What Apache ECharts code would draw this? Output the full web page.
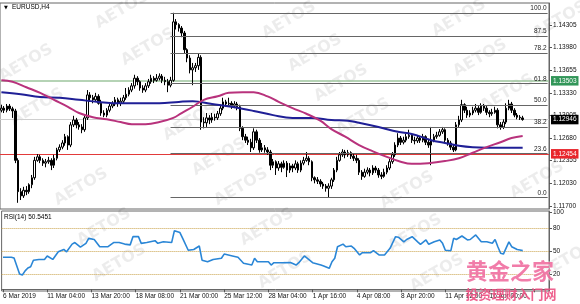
<!DOCTYPE html>
<html><head><meta charset="utf-8">
<script src="https://cdn.jsdelivr.net/npm/echarts@6/dist/echarts.min.js"></script>
<style>html,body{margin:0;padding:0;background:#fff}#c{width:580px;height:304px}</style>
</head><body><div id="c"></div>
<script>
// ---------------- DATA ----------------
const symbolTitle = 'EURUSD,H4';
const rsiTitle = 'RSI(14) 50.5451';
const tickLabels = ['6 Mar 2019','11 Mar 04:00','13 Mar 20:00','18 Mar 08:00','21 Mar 00:00','25 Mar 12:00','28 Mar 04:00','1 Apr 16:00','4 Apr 08:00','8 Apr 20:00','11 Apr 12:00','16 Apr 00:00'];
const labelEvery = 16;
const slotCount = 198;

const opens = [1.1308,1.1311,1.1308,1.1314,1.1310,1.1307,1.1236,1.1191,1.1185,1.1193,
 1.1191,1.1201,1.1211,1.1236,1.1241,1.1236,1.1232,1.1234,1.1236,1.1229,
 1.1239,1.1251,1.1255,1.1261,1.1270,1.1258,1.1287,1.1294,1.1287,1.1284,
 1.1280,1.1297,1.1330,1.1326,1.1323,1.1328,1.1318,1.1304,1.1301,1.1308,
 1.1314,1.1317,1.1323,1.1318,1.1321,1.1326,1.1331,1.1337,1.1343,1.1354,
 1.1349,1.1340,1.1337,1.1343,1.1349,1.1354,1.1351,1.1354,1.1357,1.1351,
 1.1349,1.1344,1.1351,1.1435,1.1431,1.1426,1.1419,1.1395,1.1383,1.1366,
 1.1369,1.1372,1.1384,1.1291,1.1290,1.1297,1.1294,1.1298,1.1297,1.1303,
 1.1311,1.1320,1.1317,1.1318,1.1314,1.1317,1.1313,1.1282,1.1270,1.1265,
 1.1262,1.1254,1.1277,1.1265,1.1251,1.1254,1.1251,1.1248,1.1229,1.1234,
 1.1225,1.1231,1.1226,1.1232,1.1222,1.1228,1.1225,1.1231,1.1222,1.1232,
 1.1236,1.1239,1.1234,1.1211,1.1208,1.1206,1.1202,1.1199,1.1196,1.1199,
 1.1208,1.1222,1.1236,1.1244,1.1248,1.1244,1.1247,1.1242,1.1239,1.1236,
 1.1219,1.1213,1.1219,1.1222,1.1218,1.1225,1.1222,1.1215,1.1213,1.1219,
 1.1225,1.1234,1.1244,1.1258,1.1268,1.1262,1.1265,1.1270,1.1272,1.1265,
 1.1264,1.1268,1.1265,1.1270,1.1262,1.1258,1.1265,1.1270,1.1272,1.1277,
 1.1280,1.1265,1.1261,1.1255,1.1251,1.1287,1.1294,1.1316,1.1308,1.1301,
 1.1304,1.1308,1.1311,1.1305,1.1314,1.1311,1.1305,1.1303,1.1305,1.1308,
 1.1287,1.1284,1.1291,1.1311,1.1317,1.1308,1.1301,1.1298,1.1297];

const closes = [1.1311,1.1308,1.1314,1.1310,1.1307,1.1236,1.1191,1.1185,1.1193,1.1191,
 1.1201,1.1211,1.1236,1.1241,1.1236,1.1232,1.1234,1.1236,1.1229,1.1239,
 1.1251,1.1255,1.1261,1.1270,1.1258,1.1287,1.1294,1.1287,1.1284,1.1280,
 1.1297,1.1330,1.1326,1.1323,1.1328,1.1318,1.1304,1.1301,1.1308,1.1314,
 1.1317,1.1323,1.1318,1.1321,1.1326,1.1331,1.1337,1.1343,1.1354,1.1349,
 1.1340,1.1337,1.1343,1.1349,1.1354,1.1351,1.1354,1.1357,1.1351,1.1349,
 1.1344,1.1351,1.1435,1.1431,1.1426,1.1419,1.1395,1.1383,1.1366,1.1369,
 1.1372,1.1384,1.1291,1.1290,1.1297,1.1294,1.1298,1.1297,1.1303,1.1311,
 1.1320,1.1317,1.1318,1.1314,1.1317,1.1313,1.1282,1.1270,1.1265,1.1262,
 1.1254,1.1277,1.1265,1.1251,1.1254,1.1251,1.1248,1.1229,1.1234,1.1225,
 1.1231,1.1226,1.1232,1.1222,1.1228,1.1225,1.1231,1.1222,1.1232,1.1236,
 1.1239,1.1234,1.1211,1.1208,1.1206,1.1202,1.1199,1.1196,1.1199,1.1208,
 1.1222,1.1236,1.1244,1.1248,1.1244,1.1247,1.1242,1.1239,1.1236,1.1219,
 1.1213,1.1219,1.1222,1.1218,1.1225,1.1222,1.1215,1.1213,1.1219,1.1225,
 1.1234,1.1244,1.1258,1.1268,1.1262,1.1265,1.1270,1.1272,1.1265,1.1264,
 1.1268,1.1265,1.1270,1.1262,1.1258,1.1265,1.1270,1.1272,1.1277,1.1280,
 1.1265,1.1261,1.1255,1.1251,1.1287,1.1294,1.1316,1.1308,1.1301,1.1304,
 1.1308,1.1311,1.1305,1.1314,1.1311,1.1305,1.1303,1.1305,1.1308,1.1287,
 1.1284,1.1291,1.1311,1.1317,1.1308,1.1301,1.1298,1.1297,1.12946];

const highs = [1.1316,1.1314,1.1317,1.1317,1.1313,1.1310,1.1239,1.1196,1.1198,1.1199,
 1.1203,1.1215,1.1241,1.1245,1.1244,1.1239,1.1238,1.1241,1.1239,1.1244,
 1.1254,1.1259,1.1265,1.1274,1.1272,1.1291,1.1300,1.1297,1.1291,1.1288,
 1.1301,1.1337,1.1334,1.1330,1.1333,1.1331,1.1323,1.1308,1.1311,1.1317,
 1.1321,1.1327,1.1326,1.1326,1.1330,1.1340,1.1341,1.1347,1.1359,1.1357,
 1.1351,1.1344,1.1347,1.1353,1.1359,1.1357,1.1360,1.1361,1.1360,1.1356,
 1.1353,1.1356,1.1448,1.1439,1.1433,1.1429,1.1422,1.1397,1.1387,1.1376,
 1.1376,1.1390,1.1387,1.1298,1.1304,1.1301,1.1304,1.1303,1.1307,1.1316,
 1.1326,1.1323,1.1326,1.1321,1.1321,1.1320,1.1316,1.1285,1.1274,1.1270,
 1.1267,1.1282,1.1280,1.1268,1.1261,1.1258,1.1255,1.1251,1.1238,1.1236,
 1.1235,1.1234,1.1236,1.1235,1.1232,1.1231,1.1236,1.1234,1.1236,1.1241,
 1.1248,1.1242,1.1236,1.1213,1.1212,1.1209,1.1205,1.1202,1.1203,1.1211,
 1.1225,1.1241,1.1248,1.1252,1.1251,1.1251,1.1249,1.1245,1.1244,1.1239,
 1.1222,1.1224,1.1226,1.1225,1.1229,1.1228,1.1225,1.1219,1.1224,1.1229,
 1.1238,1.1248,1.1262,1.1275,1.1271,1.1270,1.1274,1.1280,1.1275,1.1270,
 1.1272,1.1271,1.1274,1.1272,1.1267,1.1284,1.1274,1.1277,1.1281,1.1284,
 1.1282,1.1268,1.1264,1.1259,1.1291,1.1300,1.1323,1.1318,1.1313,1.1308,
 1.1313,1.1317,1.1314,1.1318,1.1317,1.1314,1.1308,1.1310,1.1313,1.1311,
 1.1291,1.1295,1.1318,1.1323,1.1320,1.1311,1.1304,1.1301,1.1300];

const lows = [1.1305,1.1304,1.1305,1.1307,1.1297,1.1232,1.1175,1.1179,1.1182,1.1186,
 1.1188,1.1196,1.1208,1.1234,1.1232,1.1228,1.1226,1.1231,1.1222,1.1225,
 1.1236,1.1248,1.1252,1.1257,1.1251,1.1255,1.1284,1.1282,1.1280,1.1275,
 1.1277,1.1294,1.1320,1.1318,1.1320,1.1316,1.1300,1.1298,1.1298,1.1305,
 1.1311,1.1314,1.1313,1.1314,1.1318,1.1323,1.1328,1.1334,1.1339,1.1344,
 1.1336,1.1333,1.1334,1.1340,1.1346,1.1347,1.1349,1.1351,1.1347,1.1344,
 1.1334,1.1341,1.1349,1.1424,1.1421,1.1413,1.1390,1.1377,1.1361,1.1344,
 1.1363,1.1366,1.1280,1.1282,1.1284,1.1288,1.1290,1.1293,1.1294,1.1300,
 1.1308,1.1313,1.1313,1.1310,1.1311,1.1308,1.1278,1.1265,1.1261,1.1258,
 1.1248,1.1251,1.1261,1.1247,1.1248,1.1247,1.1244,1.1222,1.1225,1.1215,
 1.1221,1.1219,1.1224,1.1212,1.1218,1.1219,1.1222,1.1218,1.1219,1.1229,
 1.1234,1.1229,1.1206,1.1203,1.1202,1.1198,1.1195,1.1191,1.1183,1.1195,
 1.1205,1.1219,1.1234,1.1241,1.1239,1.1241,1.1238,1.1235,1.1232,1.1215,
 1.1208,1.1211,1.1216,1.1213,1.1215,1.1218,1.1211,1.1209,1.1211,1.1216,
 1.1222,1.1231,1.1241,1.1255,1.1258,1.1259,1.1262,1.1267,1.1261,1.1259,
 1.1261,1.1261,1.1262,1.1258,1.1254,1.1229,1.1262,1.1267,1.1270,1.1274,
 1.1261,1.1257,1.1251,1.1248,1.1249,1.1284,1.1291,1.1304,1.1297,1.1298,
 1.1301,1.1305,1.1301,1.1303,1.1307,1.1301,1.1298,1.1300,1.1303,1.1282,
 1.1280,1.1281,1.1288,1.1308,1.1304,1.1298,1.1295,1.1294,1.1293];

// moving averages: [bar index, price]
const maMagenta = [[0,1.1351],[4,1.1349],[9,1.1341],[14,1.1333],[19,1.1323],[24,1.1313],[28,1.1304],[33,1.1298],[38,1.1295],[43,1.1291],[47,1.1288],[52,1.1288],[57,1.1291],[62,1.1297],[65,1.1304],[69,1.1313],[73,1.1323],[78,1.1328],[82,1.1333],[87,1.1334],[91,1.1334],[96,1.1328],[100,1.1320],[105,1.1311],[110,1.1303],[115,1.1293],[119,1.1281],[124,1.1270],[129,1.1258],[134,1.1249],[139,1.1241],[144,1.1234],[148,1.1231],[154,1.1232],[160,1.1235],[165,1.1239],[170,1.1247],[175,1.1255],[180,1.1262],[184,1.1268],[188,1.1271]];
const maBlue = [[0,1.1334],[7,1.1331],[14,1.1327],[21,1.1326],[28,1.1323],[35,1.1320],[43,1.1318],[50,1.1318],[57,1.1318],[64,1.1320],[69,1.1321],[76,1.1317],[83,1.1313],[91,1.1307],[98,1.1301],[105,1.1297],[112,1.1297],[119,1.1294],[125,1.1293],[129,1.1290],[136,1.1284],[143,1.1277],[148,1.1274],[155,1.1265],[160,1.1261],[165,1.1257],[170,1.1255],[180,1.1254],[188,1.1254]];

// RSI(14): [bar index, value]
const rsiValues = [[0,41.8],[3,41.8],[4,40.8],[6,20],[7,18.7],[8,24],[9,27.8],[10,29.5],[11,38],[13,39],[15,39],[16,43.5],[18,39],[20,49],[22,52],[23,49],[25,59],[26,61],[28,55],[30,60],[31,66.5],[33,65],[35,55.6],[38,55.6],[40,61],[42,61],[44,59],[46,58],[47,68.7],[49,68.7],[50,60],[52,61],[55,63.5],[56,60],[58,62],[61,61],[62,76.5],[64,74],[65,66.5],[67,51],[69,52],[71,56.5],[72,38],[74,36],[76,39],[79,40.5],[80,46],[83,43.5],[85,41.8],[87,34],[90,31.7],[91,40.5],[92,36],[96,36],[97,31.7],[98,34.7],[101,34.7],[104,35],[106,31.7],[107,34.7],[109,43.5],[112,34.7],[115,31.7],[116,30.4],[118,27.4],[119,36],[120,40.5],[121,55.6],[123,59],[124,55.6],[126,56.5],[127,53.5],[129,44.8],[130,47.8],[133,47.8],[134,50.4],[136,44.8],[138,44.8],[140,53.5],[142,68.7],[143,68],[145,62],[146,65],[148,68.7],[150,62],[151,58.7],[153,64.4],[154,58.7],[156,62],[158,64.4],[159,60],[160,51],[162,50.4],[163,66.5],[164,65],[166,69.6],[168,64.4],[169,65],[171,71],[173,62],[175,62],[177,60],[178,65],[179,55.6],[180,47],[181,46],[183,62],[184,55.6],[186,52],[187,51.3],[188,50.5]];

const priceTicks = [1.11700,1.12030,1.12355,1.12680,1.13005,1.13330,1.13655,1.13980,1.14305];
const rsiTicks = [100,80,50,20];
const rsiLevels = [80,50,20];
const fibLabels = ['100.0','87.5','78.2','61.8','50.0','38.2','23.6','0.0'];
const fibPrices = [1.14477,1.14149,1.13902,1.13468,1.13155,1.12842,1.12455,1.11830];
const fibStartBar = 61;
const greenLevel = 1.13503;
const redLevel = 1.12454;
const lastPrice = 1.12946;

// ---------------- CHART ----------------
const FONT = 'Liberation Sans';
const FS = 6.5;
const cats = Array.from({length: slotCount}, (_, i) => String(i));
const candleData = closes.map((c, i) => [opens[i], c, lows[i], highs[i]]);
const fibMarks = fibPrices.map((p, k) => [
  {name: fibLabels[k], coord: [fibStartBar, p]},
  {coord: [slotCount - 1, p]}
]);
const boxLabel = (txt, bg) => ({show: true, position: 'end', distance: 2, formatter: txt,
  backgroundColor: bg, color: '#fff', padding: [1.5, 2, 1, 2], fontSize: FS, fontFamily: FONT});

const wm = [[26,63],[122,10],[148,47],[289,20],[315,53],[459,18],[480,58],[37,107],[190,122],[341,83],[363,117],[507,93],[81,187],[219,157],[241,187],[407,190],[537,180],[104,227],[267,227],[415,233],[119,263],[285,270],[437,273],[567,260],[560,20]];
const watermarks = wm.map(([x, y]) => ({
  type: 'text', x: x, y: y, rotation: Math.PI / 6, silent: true, z: 1,
  style: {text: 'AETOS', fontFamily: 'DejaVu Sans', fontWeight: 'bold', fontSize: 16,
    fill: 'rgba(0,0,0,0.075)', align: 'center', verticalAlign: 'middle'}
}));

const chart = echarts.init(document.getElementById('c'), null, {renderer: 'canvas'});
chart.setOption({
  animation: false,
  backgroundColor: '#fff',
  grid: [
    {left: 0, right: 31, top: 3, height: 206, show: true, borderColor: '#666', borderWidth: 1},
    {left: 0, right: 31, top: 211, height: 80, show: true, borderColor: '#666', borderWidth: 1}
  ],
  xAxis: [
    {type: 'category', gridIndex: 0, data: cats, boundaryGap: true,
     axisLine: {show: false}, axisTick: {show: false}, axisLabel: {show: false}, splitLine: {show: false}},
    {type: 'category', gridIndex: 1, data: cats, boundaryGap: true,
     axisLine: {show: true, lineStyle: {color: '#666'}},
     axisTick: {show: true, alignWithLabel: true, length: 3, interval: (i) => i % labelEvery === 0, lineStyle: {color: '#555'}},
     axisLabel: {show: true, interval: (i) => i % labelEvery === 0, align: 'left', margin: 2,
       formatter: (v, i) => tickLabels[Math.round(i / labelEvery)] || '',
       fontSize: FS, fontFamily: FONT, color: '#111'},
     splitLine: {show: false}}
  ],
  yAxis: [
    {type: 'value', gridIndex: 0, position: 'right', min: 1.11661, max: 1.14621, scale: true,
     axisLine: {show: true, lineStyle: {color: '#666'}},
     axisTick: {show: true, length: 3, customValues: priceTicks, lineStyle: {color: '#555'}},
     axisLabel: {show: true, customValues: priceTicks, formatter: (v) => v.toFixed(5), margin: 4,
       fontSize: FS, fontFamily: FONT, color: '#111'},
     splitLine: {show: false}},
    {type: 'value', gridIndex: 1, position: 'right', min: -2.2, max: 102.2,
     axisLine: {show: true, lineStyle: {color: '#666'}},
     axisTick: {show: true, length: 3, customValues: rsiTicks, lineStyle: {color: '#555'}},
     axisLabel: {show: true, customValues: rsiTicks, formatter: (v) => String(v), margin: 4,
       fontSize: FS, fontFamily: FONT, color: '#111'},
     splitLine: {show: false}}
  ],
  series: [
    {type: 'candlestick', xAxisIndex: 0, yAxisIndex: 0, data: candleData, barWidth: 2, z: 3,
     itemStyle: {color: '#ffffff', color0: '#000000', borderColor: '#000000', borderColor0: '#000000', borderWidth: 1},
     markLine: {silent: true, symbol: ['none', 'none'], z: 4, precision: 5,
       lineStyle: {color: '#666', width: 1, type: 'solid'},
       label: {show: true, position: 'insideEndTop', distance: 1, formatter: '{b}', fontSize: FS, fontFamily: FONT, color: '#222'},
       data: fibMarks}},
    {type: 'line', xAxisIndex: 0, yAxisIndex: 0, data: maBlue, smooth: 0.4, showSymbol: false, z: 5,
     lineStyle: {color: '#1f1f96', width: 2},
     markLine: {silent: true, symbol: ['none', 'none'], z: 2, precision: 5,
       data: [
         {yAxis: greenLevel, lineStyle: {color: '#9cc49c', width: 1.5, type: 'solid'}, label: boxLabel('1.13503', '#329659')},
         {yAxis: redLevel, lineStyle: {color: '#e23a3a', width: 1, type: 'solid'}, label: boxLabel('1.12454', '#e8262c')},
         {yAxis: lastPrice, lineStyle: {color: '#cfcfcf', width: 1, type: 'solid'}, label: boxLabel('1.12946', '#000000')}
       ]}},
    {type: 'line', xAxisIndex: 0, yAxisIndex: 0, data: maMagenta, smooth: 0.4, showSymbol: false, z: 5,
     lineStyle: {color: '#b8327c', width: 2}},
    {type: 'line', xAxisIndex: 1, yAxisIndex: 1, data: rsiValues, smooth: false, showSymbol: false, z: 5,
     lineStyle: {color: '#2a86d6', width: 1.6},
     markLine: {silent: true, symbol: ['none', 'none'], label: {show: false},
       lineStyle: {color: '#c9a24a', width: 1, type: 'dotted'},
       data: rsiLevels.map((v) => ({yAxis: v}))}}
  ],
  graphic: watermarks.concat([
    {type: 'text', x: 4, y: 5, silent: true, z: 10,
     style: {text: '▼', fontSize: 5, fill: '#000', fontFamily: 'DejaVu Sans'}},
    {type: 'text', x: 12, y: 4, silent: true, z: 10,
     style: {text: symbolTitle, fontSize: FS, fill: '#000', fontFamily: FONT}},
    {type: 'text', x: 4, y: 214, silent: true, z: 10,
     style: {text: rsiTitle, fontSize: FS, fill: '#000', fontFamily: FONT}},
    {type: 'text', x: 510, y: 271, silent: true, z: 20,
     style: {text: '黄金之家', fontSize: 22, fontWeight: 'bold', fontFamily: 'Noto Sans CJK SC',
       fill: 'rgba(240,110,160,0.9)', stroke: 'rgba(255,255,255,0.6)', lineWidth: 1, align: 'center', verticalAlign: 'middle'}},
    {type: 'text', x: 511, y: 294, silent: true, z: 20,
     style: {text: '投资理财入门网', fontSize: 13, fontWeight: 'bold', fontFamily: 'Noto Sans CJK SC',
       fill: 'rgba(236,80,130,0.9)', align: 'center', verticalAlign: 'middle'}}
  ])
});
</script>
</body></html>
